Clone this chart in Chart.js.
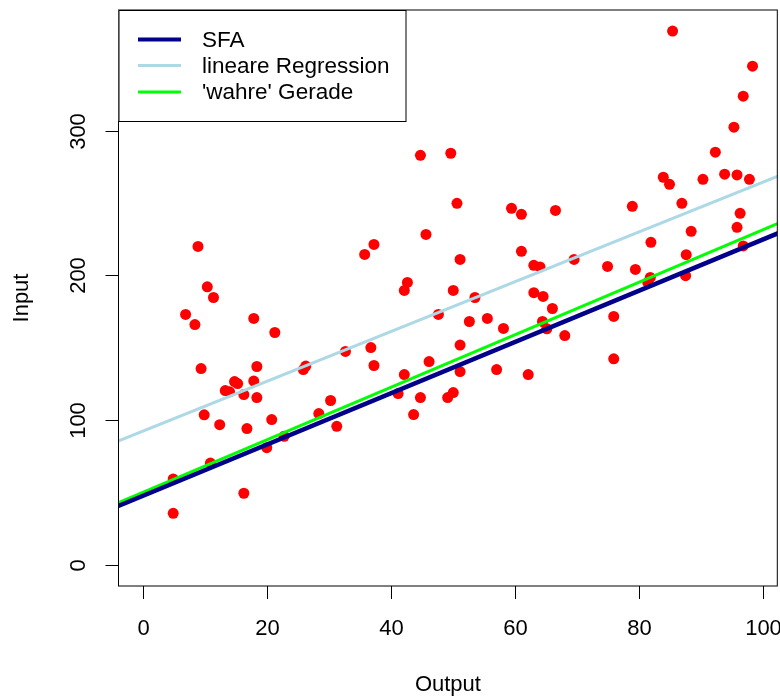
<!DOCTYPE html>
<html>
<head>
<meta charset="utf-8">
<title>SFA vs. lineare Regression</title>
<script src="https://cdn.jsdelivr.net/npm/chart.js@4.4.1/dist/chart.umd.min.js"></script>
<style>
    html, body { margin: 0; padding: 0; background: #ffffff; }
    canvas { display: block; }
</style>
</head>
<body>
<canvas id="sfaChart" width="780" height="697"></canvas>
<script>
const outputValues = [
    10.3, 11.3, 6.8, 8.3, 17.8, 21.2, 9.3, 18.3, 14.7, 15.2,
    17.8, 13.2, 13.9, 16.2, 18.3, 25.8, 26.2, 9.8, 12.3, 16.7,
    20.7, 28.3, 22.7, 19.9, 10.8, 4.8, 16.2, 4.8, 8.8, 44.7,
    49.6, 50.6, 45.6, 37.2, 35.7, 51.1, 42.6, 42.1, 50.0, 53.5,
    47.6, 52.6, 55.5, 32.6, 36.7, 37.2, 51.1, 46.1, 42.1, 57.0,
    51.1, 30.2, 31.2, 41.1, 44.7, 50.0, 49.1, 43.6, 58.1, 59.4,
    61.0, 66.5, 78.9, 83.9, 84.9, 86.9, 61.0, 81.9, 63.0, 64.0,
    69.5, 74.9, 79.4, 87.6, 81.8, 81.4, 87.5, 63.0, 64.5, 66.0,
    64.4, 65.1, 68.0, 75.9, 75.9, 62.1, 85.4, 98.3, 96.8, 95.3,
    92.3, 90.3, 93.8, 95.8, 97.8, 96.3, 95.8, 88.4, 96.8
];
const inputValues = [
    192.0, 184.6, 172.9, 165.9, 170.1, 160.4, 135.5, 136.9, 126.5, 125.1,
    126.8, 120.3, 119.4, 117.5, 115.4, 134.8, 137.2, 103.5, 96.7, 94.0,
    100.2, 104.4, 88.7, 80.8, 70.2, 59.2, 49.3, 35.4, 219.9, 282.9,
    284.3, 249.7, 228.2, 221.3, 214.4, 210.9, 195.0, 189.5, 189.5, 184.6,
    172.9, 168.0, 170.1, 147.3, 150.0, 137.6, 151.7, 140.3, 131.3, 134.8,
    133.4, 113.4, 95.6, 118.2, 115.4, 118.9, 115.4, 103.7, 163.2, 246.2,
    242.1, 244.8, 247.6, 267.7, 262.8, 249.7, 216.5, 222.7, 206.8, 205.7,
    210.9, 206.1, 204.0, 214.2, 198.5, 195.0, 199.7, 187.9, 185.3, 177.0,
    168.0, 163.0, 158.3, 171.5, 142.2, 131.3, 368.7, 344.5, 323.7, 302.3,
    285.0, 266.3, 269.8, 269.3, 266.3, 242.8, 233.1, 230.3, 220.2
];

// Straight lines, given by their Input values at the two ends of lineX
const lineX = [-5, 105];
const sfaLine = [38.8, 233.6];
const regressionLine = [83.8, 272.9];
const trueLine = [41.0, 240.6];

// Axis ticks
const xTicks = [0, 20, 40, 60, 80, 100];
const yTicks = [0, 100, 200, 300];

const FONT = '22px "Liberation Sans", Arial, sans-serif';
const LEGEND_FONT = '22.5px "Liberation Sans", Arial, sans-serif';
const TICK_LEN = 13;

/**
 * Pair two arrays into {x, y} points
 */
function toPoints(xs, ys) {
    return xs.map((x, i) => ({ x: x, y: ys[i] }));
}

/**
 * Base-graphics look: box, outward ticks, rotated y labels, boxed legend
 */
const baseAxesPlugin = {
    id: 'baseAxes',
    afterDraw(chart) {
        const ctx = chart.ctx;
        const area = chart.chartArea;
        const xScale = chart.scales.x;
        const yScale = chart.scales.y;

        ctx.save();
        ctx.strokeStyle = '#000000';
        ctx.fillStyle = '#000000';
        ctx.lineWidth = 1;

        // Plot frame
        ctx.strokeRect(area.left, area.top, area.right - area.left, area.bottom - area.top);

        ctx.font = FONT;
        ctx.textAlign = 'center';
        ctx.textBaseline = 'middle';

        // x axis
        xTicks.forEach(v => {
            const px = Math.round(xScale.getPixelForValue(v)) + 0.5;
            ctx.beginPath();
            ctx.moveTo(px, area.bottom);
            ctx.lineTo(px, area.bottom + TICK_LEN);
            ctx.stroke();
            ctx.fillText(String(v), px, area.bottom + 43);
        });
        ctx.fillText('Output', (area.left + area.right) / 2, area.bottom + 99);

        // y axis, labels turned like the original
        yTicks.forEach(v => {
            const py = Math.round(yScale.getPixelForValue(v)) + 0.5;
            ctx.beginPath();
            ctx.moveTo(area.left, py);
            ctx.lineTo(area.left - TICK_LEN, py);
            ctx.stroke();
            ctx.save();
            ctx.translate(area.left - 40, py);
            ctx.rotate(-Math.PI / 2);
            ctx.fillText(String(v), 0, 0);
            ctx.restore();
        });
        ctx.save();
        ctx.translate(22, (area.top + area.bottom) / 2);
        ctx.rotate(-Math.PI / 2);
        ctx.fillText('Input', 0, 0);
        ctx.restore();

        // Legend box in the top left corner
        const box = { left: area.left, top: area.top, width: 287, height: 111 };
        ctx.fillStyle = '#ffffff';
        ctx.fillRect(box.left, box.top, box.width, box.height);
        ctx.strokeRect(box.left + 0.5, box.top + 0.5, box.width, box.height);

        const rows = [39.5, 65.5, 92];
        const lineItems = chart.data.datasets.filter(d => d.showLine);
        ctx.font = LEGEND_FONT;
        ctx.textAlign = 'left';
        lineItems.forEach((d, i) => {
            ctx.strokeStyle = d.borderColor;
            ctx.lineWidth = d.legendWidth;
            ctx.beginPath();
            ctx.moveTo(138, rows[i]);
            ctx.lineTo(181, rows[i]);
            ctx.stroke();
            ctx.fillStyle = '#000000';
            ctx.fillText(d.label, 202, rows[i] + 1);
        });

        ctx.restore();
    }
};

/**
 * Build one straight line dataset
 */
function lineDataset(label, values, color, width, legendWidth) {
    return {
        label: label,
        data: toPoints(lineX, values),
        showLine: true,
        borderColor: color,
        borderWidth: width,
        legendWidth: legendWidth,
        pointRadius: 0,
        fill: false
    };
}

const ctx = document.getElementById('sfaChart').getContext('2d');

new Chart(ctx, {
    type: 'scatter',
    data: {
        datasets: [
            // first dataset is painted last, so lines lie on the dots
            lineDataset('SFA', sfaLine, '#00008b', 4.5, 4),
            lineDataset('lineare Regression', regressionLine, '#add8e6', 3, 3),
            lineDataset("'wahre' Gerade", trueLine, '#00ff00', 3, 3),
            {
                label: 'Beobachtungen',
                data: toPoints(outputValues, inputValues),
                showLine: false,
                pointRadius: 5.5,
                pointBackgroundColor: '#ff0000',
                pointBorderWidth: 0,
                pointBorderColor: '#ff0000'
            }
        ]
    },
    options: {
        responsive: false,
        devicePixelRatio: 1,
        animation: false,
        layout: {
            autoPadding: false,
            padding: { top: 10, right: 2.7, left: 0, bottom: 0 }
        },
        plugins: {
            legend: { display: false },
            tooltip: { enabled: false }
        },
        scales: {
            x: {
                type: 'linear',
                min: -4.03,
                max: 102.3,
                grid: { display: false },
                border: { display: false },
                ticks: { display: false },
                afterFit(scale) { scale.height = 111; }
            },
            y: {
                type: 'linear',
                min: -14.8,
                max: 383.3,
                grid: { display: false },
                border: { display: false },
                ticks: { display: false },
                afterFit(scale) { scale.width = 118.5; }
            }
        }
    },
    plugins: [baseAxesPlugin]
});
</script>
</body>
</html>
